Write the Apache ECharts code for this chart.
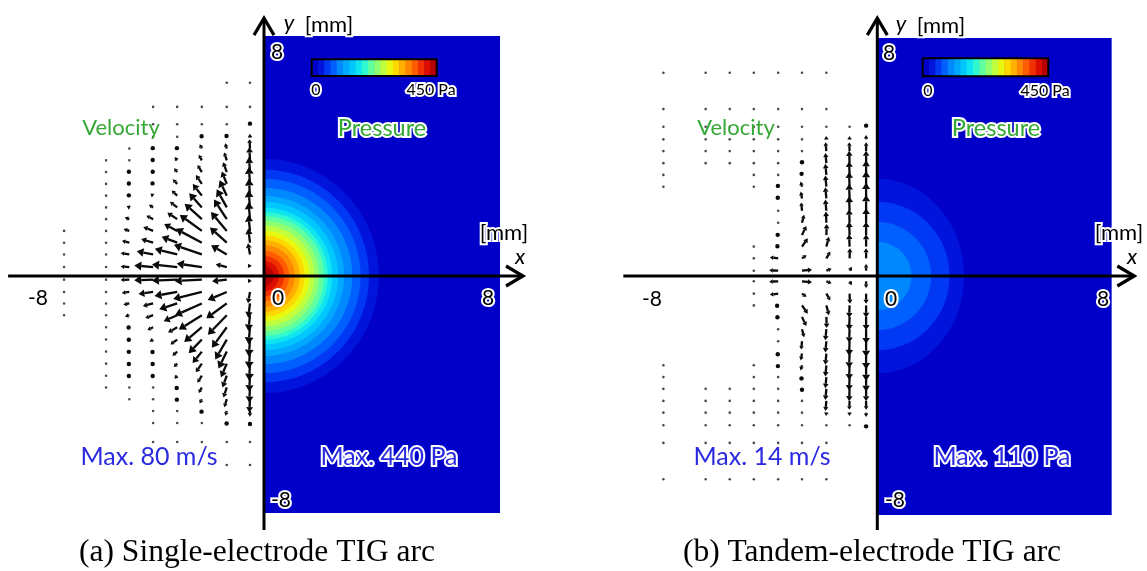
<!DOCTYPE html>
<html>
<head>
<meta charset="utf-8">
<script src="https://cdn.jsdelivr.net/npm/echarts/dist/echarts.min.js"></script>
<style>
  html, body { margin: 0; padding: 0; background: #fff; }
  #chart { width: 1147px; height: 571px; }
</style>
</head>
<body>
<div id="chart"></div>
<script>
const _ = null;

// ---------- (a) single-electrode arc : velocity samples (mm, m/s, deg) ----------
const rowsA = [6.90, 6.04, 5.42, 4.97, 4.55, 4.13, 3.71, 3.29, 2.87, 2.45, 2.03, 1.61, 1.19, 0.77, 0.32,
               -0.13, -0.57, -0.98, -1.40, -1.83, -2.27, -2.70, -3.13, -3.56, -3.98, -4.40, -4.82, -5.25, -5.93, -6.75];
const colsA = [-7.14, -5.64, -4.81, -3.96, -3.10, -2.22, -1.33, -0.50];
const speedA = [
  [_,_,_,_,_,_,_,_,_,_,_,0,0,0,0,0,0,0,0,_,_,_,_,_,_,_,_,_,_,_],
  [_,_,_,_,_,0,0,0,0,0,0,0,0,0,0,0,0,0,0,0,0,0,0,0,0,_,_,_,_,_],
  [_,_,_,_,2,2,3,3,3,8,13,16,20,23,23,23,20,16,12,4,3,3,3,3,2,1,_,_,_,_],
  [_,0,1,2,3,3,3,4,9,13,20,28,33,44,50,50,39,28,22,17,11,4,3,3,2,2,1,0,0,_],
  [_,0,1,2,3,11,13,17,20,24,31,39,44,61,67,67,61,50,39,28,22,17,13,11,4,3,2,1,0,_],
  [_,0,1,3,13,17,22,28,39,50,61,72,78,78,67,72,78,78,72,61,50,39,28,22,17,13,4,2,0,_],
  [0,0,1,5,15,22,28,35,45,55,62,65,60,48,30,39,55,67,72,67,61,50,39,33,28,22,13,3,1,0],
  [0,1,3,8,25,35,40,45,45,45,45,42,38,30,10,10,30,38,42,45,45,45,45,42,40,35,15,5,2,0]
];
const angleA = [
  null,
  null,
  [_,_,_,_,137,139,142,146,149,153,157,161,166,171,176,182,187,192,196,201,205,209,213,217,220,223,_,_,_,_],
  [_,123,126,128,131,134,137,140,144,148,153,158,163,169,175,182,188,194,200,205,210,214,218,222,225,228,231,233,236,_],
  [_,117,120,122,124,127,130,133,137,142,147,152,159,166,174,182,190,198,204,210,216,221,225,229,232,235,237,239,242,_],
  [_,110,112,114,116,118,121,124,128,132,138,144,152,161,172,183,194,204,212,220,226,231,235,238,241,243,245,247,250,_],
  [101,102,104,105,106,108,110,112,115,119,123,130,138,150,166,186,203,216,226,234,240,244,247,250,252,253,255,256,257,259],
  [92,92,93,93,93,93,94,94,94,95,95,96,97,100,120,240,260,263,264,265,266,266,267,267,267,267,268,268,268,268]
];

// ---------- (b) tandem-electrode arc : velocity samples ----------
const rowsB = [7.26, 5.96, 5.33, 4.88, 4.46, 4.03, 3.61, 3.19, 2.77, 2.33, 1.90, 1.46, 1.05, 0.63, 0.19,
               -0.19, -0.63, -1.05, -1.46, -1.90, -2.33, -2.77, -3.19, -3.61, -4.03, -4.46, -4.88, -5.33, -5.96, -7.26];
const colsB = [-7.64, -6.13, -5.27, -4.41, -3.54, -2.69, -1.82, -0.99, -0.40];
const speedB = [
  [0,0,0,0,0,0,0,0,_,_,_,_,_,_,_,_,_,_,_,_,_,_,0,0,0,0,0,0,0,0],
  [0,0,0,0,0,0,_,_,_,_,_,_,_,_,_,_,_,_,_,_,_,_,_,_,0,0,0,0,0,0],
  [0,0,0,0,0,0,_,_,_,_,_,_,_,_,_,_,_,_,_,_,_,_,_,_,0,0,0,0,0,0],
  [0,0,0,0,0,0,0,0,_,_,_,_,0,0,0,0,0,0,_,_,_,_,0,0,0,0,0,0,0,0],
  [0,0,0,0,0,0.5,0.5,1.5,1.5,0.5,0.5,1,1.5,7.5,8,8,7.5,2,1.5,0.5,0.5,1.5,1.5,0.5,0.5,0,0,0,0,0],
  [0,0,0,0,0,1.5,2,4.7,6.2,7.5,7.5,9,9,5,9,9,5,9,9,7.5,7.5,6.2,4.7,2.5,1.5,0.5,0,0,0,0],
  [0,0,0.5,3,8,9,10,10,10,10,10,10,9,7,5,5,7,9,10,10,10,10,10,10,10,9,3,0.5,0,0],
  [_,_,0.5,3,8,11,12,13,13,13,12,12,11,9,4,4,9,11,12,12,13,13,13,12,11,8,3,0.5,_,_],
  [_,_,2,4,8,11,13,14,14,14,13,12,11,9,6,6,9,11,12,13,14,14,14,13,11,8,4,2,_,_]
];
const angleB = [
  null, null, null, null,
  [90,90,90,90,90,90,100,110,120,130,140,150,160,172,178,182,188,200,210,220,230,240,250,260,270,270,270,270,270,270],
  [90,90,90,90,90,90,110,105,100,95,75,65,55,35,5,355,325,305,295,285,265,260,255,250,270,270,270,270,270,270],
  [90,90,90,95,95,95,95,95,95,95,92,88,75,60,20,340,300,285,272,265,265,265,265,265,265,265,265,270,270,270],
  [90,90,92,92,92,92,92,92,92,92,92,92,92,88,60,300,272,268,268,268,268,268,268,268,268,268,268,268,270,270],
  [90,90,90,90,90,90,90,90,90,90,90,90,90,90,90,270,270,270,270,270,270,270,270,270,270,270,270,270,270,270]
];

// ---------- pressure contour bands: [lower level Pa, x extent mm, y extent mm] ----------
const pressureA = [[22.5,4.10,4.18],[45,3.75,3.80],[67.5,3.45,3.47],[90,3.15,3.15],[112.5,2.86,2.86],
  [135,2.65,2.65],[157.5,2.44,2.44],[180,2.28,2.28],[202.5,2.14,2.14],[225,1.97,1.97],[247.5,1.80,1.80],
  [270,1.62,1.62],[292.5,1.45,1.45],[315,1.28,1.28],[337.5,1.10,1.10],[360,0.90,0.90],[382.5,0.72,0.72],
  [405,0.54,0.54],[427.5,0.35,0.35]];
const pressureB = [[22.5,3.10,3.47],[45,2.58,2.65],[67.5,1.92,1.93],[90,1.22,1.22]];

// pressure domain [x0, x1, y0, y1] in mm
const domainA = [0, 8.43, -8.46, 8.57];
const domainB = [0, 8.37, -8.54, 8.50];

// axis lines [x0, y0, x1, y1] in mm (arrow at the end)
const axesA = [[-9.14, 0, 9.25, 0], [0, -9.07, 0, 9.21]];
const axesB = [[-9.07, 0, 9.18, 0], [0, -9.07, 0, 9.21]];

// colour bar steps (Pa)
const cbarSteps = [0,22.5,45,67.5,90,112.5,135,157.5,180,202.5,225,247.5,270,292.5,315,337.5,360,382.5,405,427.5,450];

// ---------- styling ----------
const palette = ['#0000c8','#0014dc','#0038f4','#0060ff','#0088ff','#00a8ff','#00c8ff','#10e4f0','#30f8d0','#60ffa0',
                 '#90ff70','#c0ff40','#e8f810','#ffd800','#ffb000','#ff8800','#ff5c00','#f03000','#dc0c00','#b40000'];
const LEVEL_STEP = 22.5;
const ARROW_MM_PER_MS_A = 0.0135;  // 80 m/s -> ~30 px
const ARROW_MM_PER_MS_B = 0.040;   // 14 m/s -> ~16 px

function vectorData(rows, cols, speeds, angles) {
  const out = [];
  cols.forEach((x, c) => {
    rows.forEach((y, r) => {
      const s = speeds[c][r];
      if (s === null || s === undefined) return;
      const a = angles[c] ? angles[c][r] : 180;
      out.push([x, y, s, a === null ? 180 : a]);
    });
  });
  return out;
}

function arrowRenderer(mmPerMs) {
  return function (params, api) {
    const x = api.value(0), y = api.value(1), s = api.value(2), a = api.value(3) * Math.PI / 180;
    const L = s * mmPerMs;
    const p0 = api.coord([x, y]);
    const p1 = api.coord([x + L * Math.cos(a), y + L * Math.sin(a)]);
    const dx = p1[0] - p0[0], dy = p1[1] - p0[1];
    const len = Math.hypot(dx, dy);
    if (len < 0.8) {
      return { type: 'circle', shape: { cx: p0[0], cy: p0[1], r: 1.3 }, style: { fill: '#4a4a4a' } };
    }
    if (len < 3) {
      return { type: 'circle', shape: { cx: p0[0] + dx / 2, cy: p0[1] + dy / 2, r: 2.2 }, style: { fill: '#0a0a0a' } };
    }
    const ux = dx / len, uy = dy / len;
    const h = Math.min(7, Math.max(3.5, len * 0.4)), w = h * 0.65;
    const bx = p1[0] - ux * h, by = p1[1] - uy * h;
    return {
      type: 'group',
      children: [
        { type: 'line', shape: { x1: p0[0], y1: p0[1], x2: bx, y2: by }, style: { stroke: '#0a0a0a', lineWidth: 2.3 } },
        { type: 'polygon', shape: { points: [[p1[0], p1[1]], [bx - uy * w, by + ux * w], [bx + uy * w, by - ux * w]] },
          style: { fill: '#0a0a0a' } }
      ]
    };
  };
}

function domainRenderer(params, api) {
  const a = api.coord([api.value(0), api.value(3)]);
  const b = api.coord([api.value(1), api.value(2)]);
  return { type: 'rect', shape: { x: a[0], y: a[1], width: b[0] - a[0], height: b[1] - a[1] }, style: { fill: palette[0] } };
}

function bandRenderer(params, api) {
  const level = api.value(0), rx = api.value(1), ry = api.value(2);
  const pts = [];
  for (let t = -90; t <= 90; t += 2) {
    const r = t * Math.PI / 180;
    pts.push(api.coord([rx * Math.cos(r), ry * Math.sin(r)]));
  }
  return { type: 'polygon', shape: { points: pts }, style: { fill: palette[Math.round(level / LEVEL_STEP)] } };
}

function axisRenderer(params, api) {
  const p0 = api.coord([api.value(0), api.value(1)]);
  const p1 = api.coord([api.value(2), api.value(3)]);
  const dx = p1[0] - p0[0], dy = p1[1] - p0[1], len = Math.hypot(dx, dy);
  const ux = dx / len, uy = dy / len;
  const back = 17, half = 10;
  const bx = p1[0] - ux * back, by = p1[1] - uy * back;
  return {
    type: 'group',
    children: [
      { type: 'line', shape: { x1: p0[0], y1: p0[1], x2: p1[0] - ux * 1.5, y2: p1[1] - uy * 1.5 }, style: { stroke: '#000', lineWidth: 3 } },
      { type: 'polyline', shape: { points: [[bx - uy * half, by + ux * half], [p1[0], p1[1]], [bx + uy * half, by - ux * half]] },
        style: { stroke: '#000', lineWidth: 3.2, fill: null } }
    ]
  };
}

function cbarCellRenderer(params, api) {
  const lo = api.value(0), hi = api.value(1);
  const a = api.coord([lo, 1]), b = api.coord([hi, 0]);
  return { type: 'rect', shape: { x: a[0], y: a[1], width: b[0] - a[0] + 0.5, height: b[1] - a[1] },
           style: { fill: palette[Math.round(lo / LEVEL_STEP)] } };
}
function cbarFrameRenderer(params, api) {
  const a = api.coord([api.value(0), 1]), b = api.coord([api.value(1), 0]);
  return { type: 'rect', shape: { x: a[0], y: a[1], width: b[0] - a[0], height: b[1] - a[1] },
           style: { fill: null, stroke: '#000', lineWidth: 2 } };
}

const cbarCells = cbarSteps.slice(0, -1).map((v, i) => [v, cbarSteps[i + 1]]);

function panelSeries(p, domain, bands, vectors, mmPerMs, axes) {
  const xi = p, yi = p, cb = p + 2;
  return [
    { type: 'custom', xAxisIndex: xi, yAxisIndex: yi, z: 1, clip: false, renderItem: domainRenderer, data: [domain] },
    { type: 'custom', xAxisIndex: xi, yAxisIndex: yi, z: 2, clip: false, renderItem: bandRenderer, data: bands },
    { type: 'custom', xAxisIndex: xi, yAxisIndex: yi, z: 3, clip: false, renderItem: arrowRenderer(mmPerMs), data: vectors },
    { type: 'custom', xAxisIndex: xi, yAxisIndex: yi, z: 4, clip: false, renderItem: axisRenderer, data: axes },
    { type: 'custom', xAxisIndex: cb, yAxisIndex: cb, z: 5, clip: false, renderItem: cbarCellRenderer, data: cbarCells },
    { type: 'custom', xAxisIndex: cb, yAxisIndex: cb, z: 6, clip: false, renderItem: cbarFrameRenderer,
      data: [[cbarSteps[0], cbarSteps[cbarSteps.length - 1]]] }
  ];
}

// ---------- text ----------
const SANS = 'Lato, "Open Sans", sans-serif';
const SERIF = '"Liberation Serif", "DejaVu Serif", serif';
const GREEN = '#35a835';
const BLUE = '#2a2ae0';

function label(text, x, y, font, color, halo) {
  const out = [];
  if (halo) {
    out.push({ type: 'text', x: x, y: y, z: 50, silent: true,
      style: { text: text, font: font, fill: '#fff', stroke: '#fff', lineWidth: 4, align: 'center',
               verticalAlign: 'middle', shadowColor: 'rgba(255,255,255,0.9)', shadowBlur: 3 } });
  }
  out.push({ type: 'text', x: x, y: y, z: 51, silent: true,
    style: { text: text, font: font, fill: color, align: 'center', verticalAlign: 'middle' } });
  return out;
}

const graphics = [].concat(
  // panel (a)
  label('8', 277, 52, '21px ' + SANS, '#000', true),
  label('-8', 281, 500, '21px ' + SANS, '#000', true),
  label('0', 278, 298, '21px ' + SANS, '#000', true),
  label('8', 488, 298, '21px ' + SANS, '#000', true),
  label('-8', 38, 298, '21px ' + SANS, '#000', false),
  label('y', 289, 23, 'italic 22px ' + SANS, '#000', true),
  label('[mm]', 329, 25, '22px ' + SANS, '#000', true),
  label('[mm]', 504, 233, '22px ' + SANS, '#000', true),
  label('x', 520, 257, 'italic 22px ' + SANS, '#000', true),
  label('Velocity', 121, 128, '22px ' + SANS, GREEN, false),
  label('Pressure', 382, 128, '23.5px ' + SANS, GREEN, true),
  label('Max. 80 m/s', 149, 457, '25px ' + SANS, BLUE, false),
  label('Max. 440 Pa', 389, 457, '25px ' + SANS, BLUE, true),
  label('0', 316, 90, '16px ' + SANS, '#000', true),
  label('450 Pa', 431, 90, '16px ' + SANS, '#000', true),
  label('(a) Single-electrode TIG arc', 257, 553, '31.5px ' + SERIF, '#000', false),
  // panel (b)
  label('8', 889, 53, '21px ' + SANS, '#000', true),
  label('-8', 895, 500, '21px ' + SANS, '#000', true),
  label('0', 891, 299, '21px ' + SANS, '#000', true),
  label('8', 1103, 299, '21px ' + SANS, '#000', true),
  label('-8', 652, 299, '21px ' + SANS, '#000', false),
  label('y', 901, 24, 'italic 22px ' + SANS, '#000', true),
  label('[mm]', 941, 26, '22px ' + SANS, '#000', true),
  label('[mm]', 1119, 233, '22px ' + SANS, '#000', true),
  label('x', 1132, 257, 'italic 22px ' + SANS, '#000', true),
  label('Velocity', 736, 128, '22px ' + SANS, GREEN, false),
  label('Pressure', 996, 128, '23.5px ' + SANS, GREEN, true),
  label('Max. 14 m/s', 762, 457, '25px ' + SANS, BLUE, false),
  label('Max. 110 Pa', 1002, 457, '25px ' + SANS, BLUE, true),
  label('0', 928, 91, '16px ' + SANS, '#000', true),
  label('450 Pa', 1045, 91, '16px ' + SANS, '#000', true),
  label('(b) Tandem-electrode TIG arc', 872, 553, '31.5px ' + SERIF, '#000', false)
);

// ---------- chart ----------
const chart = echarts.init(document.getElementById('chart'), null, { renderer: 'canvas' });
const span = { type: 'value', min: -9.4, max: 9.4, show: false };
chart.setOption({
  animation: false,
  backgroundColor: '#ffffff',
  grid: [
    { left: 0.8, top: 12.8, width: 526.4, height: 526.4 },
    { left: 614.1, top: 12.8, width: 526.4, height: 526.4 },
    { left: 311.7, top: 59.3, width: 125, height: 16.7 },
    { left: 922.7, top: 58.3, width: 125.6, height: 18 }
  ],
  xAxis: [
    Object.assign({ gridIndex: 0 }, span),
    Object.assign({ gridIndex: 1 }, span),
    { gridIndex: 2, type: 'value', min: 0, max: 450, show: false },
    { gridIndex: 3, type: 'value', min: 0, max: 450, show: false }
  ],
  yAxis: [
    Object.assign({ gridIndex: 0 }, span),
    Object.assign({ gridIndex: 1 }, span),
    { gridIndex: 2, type: 'value', min: 0, max: 1, show: false },
    { gridIndex: 3, type: 'value', min: 0, max: 1, show: false }
  ],
  series: [].concat(
    panelSeries(0, domainA, pressureA, vectorData(rowsA, colsA, speedA, angleA), ARROW_MM_PER_MS_A, axesA),
    panelSeries(1, domainB, pressureB, vectorData(rowsB, colsB, speedB, angleB), ARROW_MM_PER_MS_B, axesB)
  ),
  graphic: graphics
});
</script>
</body>
</html>
